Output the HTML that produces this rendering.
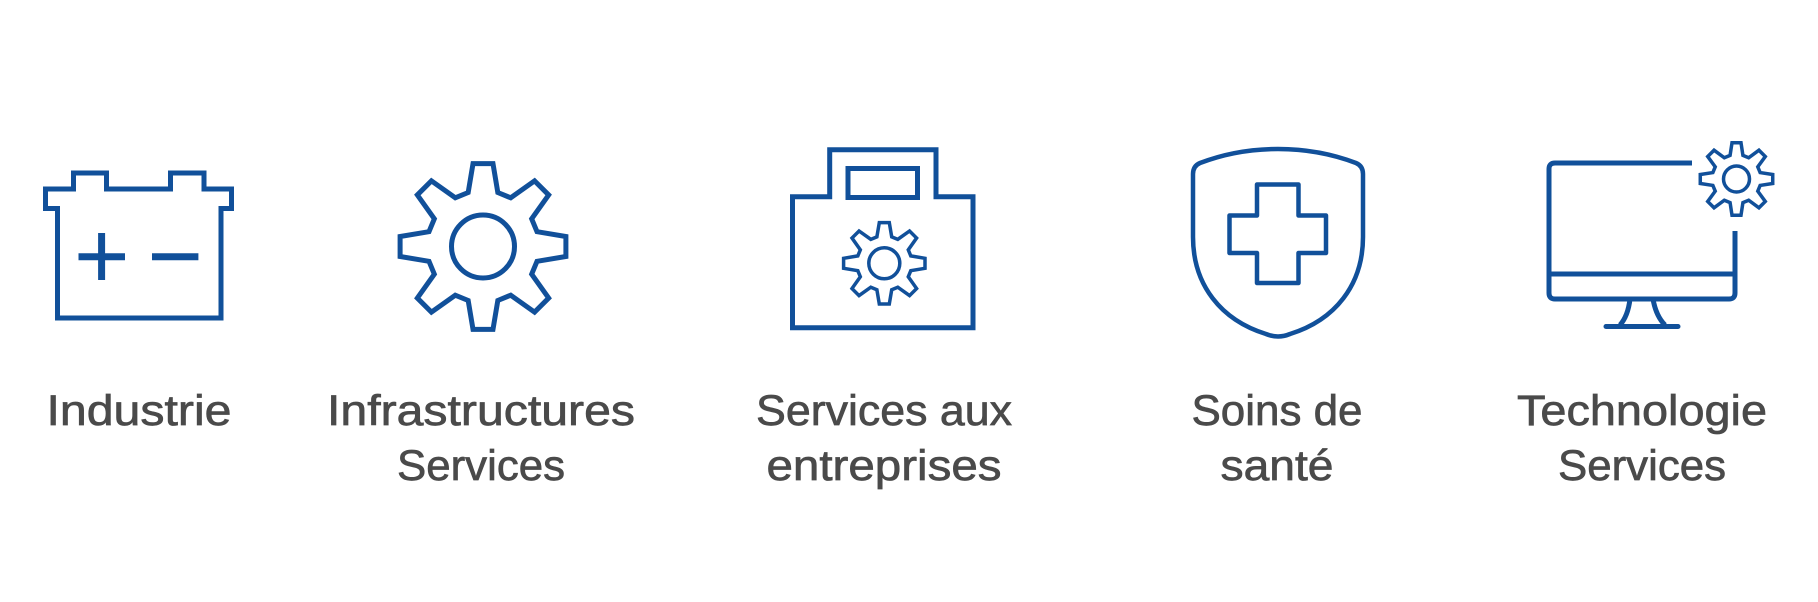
<!DOCTYPE html>
<html><head><meta charset="utf-8"><style>
html,body{margin:0;padding:0;background:#fff;}
svg{display:block;}
text{font-family:"Liberation Sans",sans-serif;font-size:43px;fill:#4a4a4a;stroke:#4a4a4a;stroke-width:0.7px;}
</style></head><body>
<svg id="s" width="1818" height="602" viewBox="0 0 1818 602" xmlns="http://www.w3.org/2000/svg">
<rect width="1818" height="602" fill="#fff"/>
<g fill="none" stroke="#11509a" stroke-width="5">
<!-- battery -->
<path d="M45.5,208.5 L45.5,189 L73.5,189 L73.5,173 L106.5,173 L106.5,189 L170.5,189 L170.5,173 L204,173 L204,189 L231.5,189 L231.5,208.5 L221,208.5 L221,318 L57.5,318 L57.5,208.5 Z"/>
<path d="M78.5,256.7 H125 M101.6,233 V280 M152,256.7 H198.4" stroke-width="7"/>
<!-- big gear -->
<path id="g1"/>
<circle cx="483" cy="246.5" r="31.5"/>
<!-- toolbox -->
<path d="M792.5,327.8 L792.5,196.8 L829.7,196.8 L829.7,149.8 L936,149.8 L936,196.8 L973,196.8 L973,327.8 Z"/>
<rect x="848" y="168.5" width="69.5" height="29" />
<path id="g2" stroke-width="3.5"/>
<circle cx="884.3" cy="263.3" r="15.5" stroke-width="3.5"/>
<!-- shield -->
<path stroke-width="4.5" d="M1278,149 C1310,149 1335,155 1356,163 Q1363,166 1363,174 L1363,237 C1363,285 1335,320 1290,334 Q1278,339 1266,334 C1221,320 1193,285 1193,237 L1193,174 Q1193,166 1200,163 C1221,155 1246,149 1278,149 Z"/>
<path stroke-width="4.5" stroke-linejoin="round" d="M1257,184.5 H1298.5 V215.5 H1326 V253 H1298.5 V283 H1257 V253 H1229.5 V215.5 H1257 Z"/>
<!-- monitor -->
<path d="M1692,163 L1555,163 Q1549,163 1549,169 L1549,293 Q1549,299 1555,299 L1729,299 Q1735,299 1735,293 L1735,231"/>
<path d="M1549,274 H1735"/>
<path d="M1630,299 Q1628,316 1620,325 M1653,299 Q1656,316 1665,325"/>
<path d="M1606,326.5 H1678" stroke-linecap="round"/>
<path id="g3" stroke-width="3.5"/>
<circle cx="1736.5" cy="179" r="13" stroke-width="3.5"/>
</g>
<text x="139" y="425" text-anchor="middle" textLength="185" lengthAdjust="spacingAndGlyphs">Industrie</text>
<text x="481" y="425" text-anchor="middle" textLength="308" lengthAdjust="spacingAndGlyphs">Infrastructures</text>
<text x="481" y="480" text-anchor="middle" textLength="168" lengthAdjust="spacingAndGlyphs">Services</text>
<text x="884" y="425" text-anchor="middle" textLength="256" lengthAdjust="spacingAndGlyphs">Services aux</text>
<text x="884" y="480" text-anchor="middle" textLength="235" lengthAdjust="spacingAndGlyphs">entreprises</text>
<text x="1277" y="425" text-anchor="middle" textLength="171" lengthAdjust="spacingAndGlyphs">Soins de</text>
<text x="1277" y="480" text-anchor="middle" textLength="113" lengthAdjust="spacingAndGlyphs">santé</text>
<text x="1642" y="425" text-anchor="middle" textLength="250" lengthAdjust="spacingAndGlyphs">Technologie</text>
<text x="1642" y="480" text-anchor="middle" textLength="168" lengthAdjust="spacingAndGlyphs">Services</text>
</svg>
<script>
function gear(id,cx,cy,R,r,th,bh){
  var d="";
  for(var i=0;i<8;i++){
    var a=(-90+45*i)*Math.PI/180;
    var ta=th/R, ba=bh/r;
    var pts=[[r,a-ba],[R,a-ta],[R,a+ta],[r,a+ba]];
    pts.forEach(function(p,j){
      var x=cx+p[0]*Math.cos(p[1]), y=cy+p[0]*Math.sin(p[1]);
      d+=(i==0&&j==0?"M":"L")+x.toFixed(2)+","+y.toFixed(2)+" ";
    });
  }
  document.getElementById(id).setAttribute("d",d+"Z");
}
gear("g1",483,246.5,83.5,56,10,15);
gear("g2",884.3,263.3,41,27.5,5,7.5);
gear("g3",1736.5,179,36.5,24.5,4.5,6.5);
</script>
</body></html>
